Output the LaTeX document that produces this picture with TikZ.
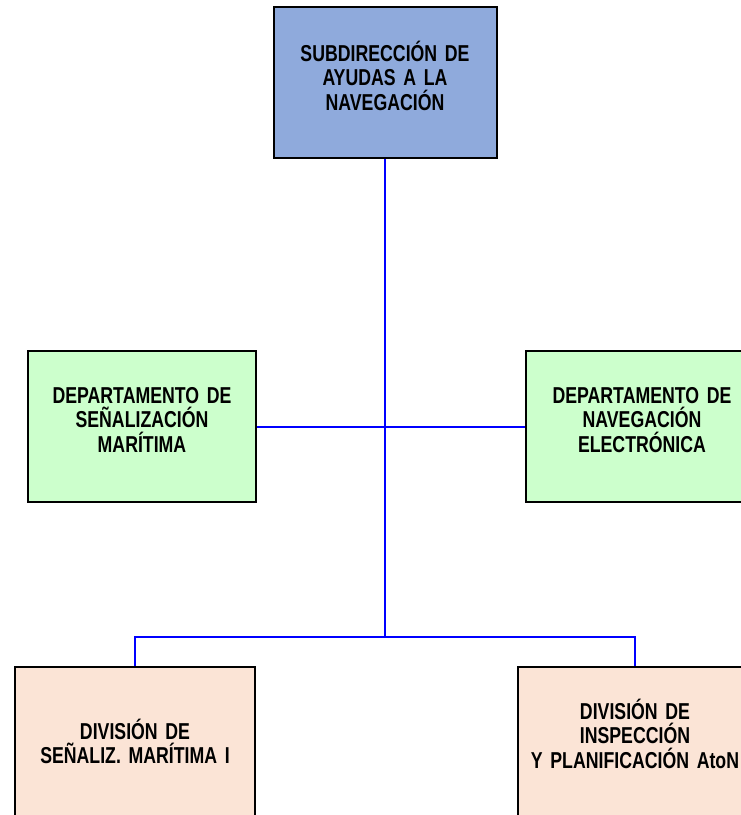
\documentclass[tikz,border=0pt]{standalone}
\usepackage{fontspec}
\setmainfont{Liberation Sans}[FakeStretch=0.77, WordSpace=0.5]
\begin{document}
\begin{tikzpicture}[x=1pt,y=1pt,
    unit/.style={draw, line width=2pt, anchor=north, inner xsep=0pt, inner ysep=0pt,
        align=center, font=\fontsize{23}{24.5}\selectfont\bfseries},
    link/.style={blue, line width=2pt}]
            \useasboundingbox (0,0) rectangle (740,-815);

            \node[unit, fill={rgb,255:red,143;green,170;blue,220}, text width=223pt,
                text height=54pt, text depth=97pt] (sub) at (385,-6)
                {SUBDIRECCIÓN DE\\AYUDAS A LA\\NAVEGACIÓN};
            \node[unit, fill={rgb,255:red,204;green,255;blue,204}, text width=228pt,
                text height=52pt, text depth=99pt] (senal) at (142,-350)
                {DEPARTAMENTO DE\\SEÑALIZACIÓN\\MARÍTIMA};
            \node[unit, fill={rgb,255:red,204;green,255;blue,204}, text width=232pt,
                text height=52pt, text depth=99pt] (nav) at (642,-350)
                {DEPARTAMENTO DE\\NAVEGACIÓN\\ELECTRÓNICA};
            \node[unit, fill={rgb,255:red,251;green,228;blue,214}, text width=240pt,
                text height=72pt, text depth=100pt] (divsen) at (135,-666)
                {DIVISIÓN DE\\SEÑALIZ. MARÍTIMA I};
            \node[unit, fill={rgb,255:red,251;green,228;blue,214}, text width=234pt,
                text height=52pt, text depth=120pt] (divins) at (635,-666)
                {DIVISIÓN DE\\INSPECCIÓN\\Y PLANIFICACIÓN AtoN};

            \coordinate (junction) at (385,-637);

            \draw[link] (sub.south) -- (junction);
            \draw[link] (senal.east) -- (nav.west);
            \draw[link] (divsen.north) |- (junction) -| (divins.north);
        \end{tikzpicture}
\end{document}
